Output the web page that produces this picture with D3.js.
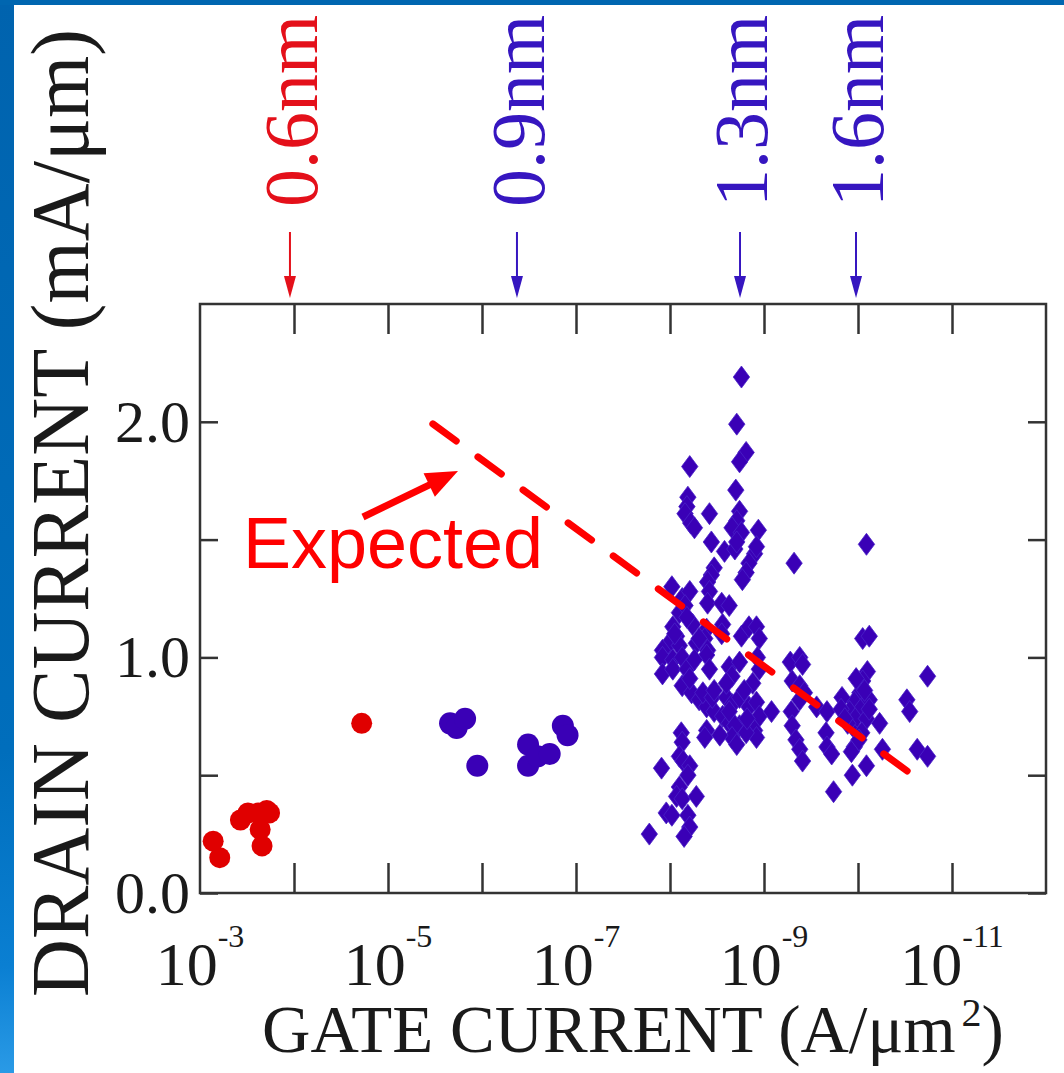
<!DOCTYPE html>
<html>
<head>
<meta charset="utf-8">
<script src="https://cdn.jsdelivr.net/npm/d3@7"></script>
<style>
  body { margin: 0; background: #fff; }
  svg { display: block; }
</style>
</head>
<body>
<script>
// gate current values are stored as log10(A/um^2)
const redCircleLogJ = [-3.14, -3.21, -3.43, -3.51, -3.62, -3.71, -3.64, -3.66, -3.74, -4.72];
const redCircleId   = [0.22, 0.15, 0.31, 0.34, 0.34, 0.35, 0.27, 0.20, 0.34, 0.72];

const blueCircleLogJ = [-5.66, -5.73, -5.82, -5.95, -6.49, -6.49, -6.59, -6.72, -6.86, -6.91];
const blueCircleId   = [0.72, 0.70, 0.74, 0.54, 0.63, 0.54, 0.58, 0.59, 0.71, 0.67];

const diamondLogJ = [
  -8.76,-8.71,-8.81,-8.74,-8.21,-8.70,-8.19,-8.18,-8.16,-8.22,
  -8.26,-8.42,-8.74,-8.71,-8.66,-8.76,-8.94,-8.44,-8.58,-8.69,
  -8.71,-8.90,-8.92,-8.84,-8.81,-8.77,-9.32,-10.09,-8.47,-8.44,
  -8.40,-8.42,-8.02,-8.13,-8.21,-8.10,-8.16,-8.40,-8.55,-8.63,
  -8.03,-8.07,-7.99,-7.92,-8.10,-8.39,-8.37,-8.40,-8.56,-8.55,
  -8.76,-8.84,-8.92,-8.95,
  -7.92,-8.03,-8.13,-7.92,-8.03,-8.18,-8.39,-8.42,-8.63,-8.66,
  -8.74,-8.93,-8.95,-8.88,-8.13,-8.23,-8.31,-8.39,-8.47,-8.56,
  -8.63,-8.74,-8.35,-8.45,-8.60,-8.66,-8.74,-8.63,-8.84,-8.92,
  -8.95,-8.90,-8.92,-9.08,-8.39,-8.37,-8.69,-8.66,-8.71,-8.81,
  -8.12,-8.13,-8.10,-8.14,-8.21,-8.19,-7.91,-8.10,-8.07,-8.13,
  -8.28,-7.96,-8.02,-8.19,-8.21,-8.15,-7.78,
  -10.05,-10.12,-9.28,-9.38,-9.41,-9.30,-9.38,-9.43,-9.38,-9.56,
  -9.67,-9.66,-9.67,-9.72,-9.29,-9.30,-9.34,-9.38,-9.41,
  -10.10,-10.05,-10.02,-9.96,-9.91,-9.83,-9.82,-9.94,-9.99,-10.05,
  -10.09,-10.04,-9.96,-9.93,-10.12,-10.23,-10.26,-10.52,-10.55,-10.74,
  -10.63,-10.74,-10.09,-9.94,-9.74,-8.24,-8.28,
  -8.26,-8.31,-8.21,-8.79,-8.53,-8.82,-8.47,-8.18,-8.05,-8.60,
  -9.89,-10.01,-10.12,-9.98,-9.86,-10.07
];
const diamondId = [
  2.19,1.99,1.87,1.83,1.81,1.71,1.68,1.64,1.61,1.57,
  1.55,1.61,1.62,1.58,1.55,1.53,1.54,1.49,1.45,1.46,
  1.49,1.44,1.47,1.40,1.36,1.33,1.40,1.48,1.38,1.35,
  1.32,1.28,1.30,1.25,1.28,1.19,1.22,1.23,1.23,1.22,
  1.13,1.09,1.06,1.03,1.05,1.12,1.08,1.03,1.14,1.10,
  1.09,1.13,1.13,1.08,
  1.00,0.99,1.00,0.93,0.95,0.95,1.01,0.95,0.96,0.92,
  0.98,1.00,0.95,0.89,0.88,0.85,0.82,0.79,0.77,0.75,
  0.72,0.71,0.85,0.83,0.83,0.80,0.83,0.77,0.79,0.81,
  0.75,0.69,0.66,0.77,0.69,0.66,0.71,0.66,0.63,0.68,
  0.68,0.64,0.58,0.56,0.54,0.50,0.53,0.45,0.41,0.40,
  0.41,0.34,0.33,0.33,0.28,0.24,0.25,
  1.08,1.09,0.98,1.00,0.97,0.90,0.88,0.85,0.82,0.79,
  0.77,0.68,0.62,0.59,0.77,0.71,0.65,0.61,0.56,
  0.94,0.90,0.85,0.81,0.77,0.83,0.78,0.71,0.75,0.79,
  0.74,0.68,0.62,0.60,0.82,0.72,0.61,0.82,0.77,0.92,
  0.61,0.58,0.54,0.50,0.43,1.14,1.06,
  0.99,1.08,0.91,0.86,0.67,0.74,0.86,1.17,1.10,0.89,
  0.72,0.65,0.78,0.91,0.74,0.86
];

// "Expected" trend line (two ends)
const expectedLogJ = [-5.447, -10.553];
const expectedId   = [2.00, 0.509];

// oxide thickness markers along the top
const thicknessLabels = ["0.6nm", "0.9nm", "1.3nm", "1.6nm"];
const thicknessLogJ   = [-3.957, -6.372, -8.745, -9.979];

const xLabelExps = [-3, -5, -7, -9, -11];
const yTickValues = [0, 0.5, 1.0, 1.5, 2.0];

const W = 1064, H = 1073;
const RED = "#e00000", BLUE = "#3a00b6";

const svg = d3.select("body").append("svg")
  .attr("width", W).attr("height", H);

// slide background / blue edges
const grad = svg.append("defs").append("linearGradient")
  .attr("id", "edge").attr("x1", 0).attr("y1", 0).attr("x2", 0).attr("y2", 1);
grad.append("stop").attr("offset", "0").attr("stop-color", "#0063ae");
grad.append("stop").attr("offset", "0.7").attr("stop-color", "#006ebc");
grad.append("stop").attr("offset", "0.9").attr("stop-color", "#0a7fd2");
grad.append("stop").attr("offset", "1").attr("stop-color", "#2a9ae6");

svg.append("rect").attr("width", W).attr("height", H).attr("fill", "#fff");
svg.append("rect").attr("x", 0).attr("y", 0).attr("width", 14).attr("height", H).attr("fill", "url(#edge)");
svg.append("rect").attr("x", 0).attr("y", 0).attr("width", W).attr("height", 5).attr("fill", "#0066b0");

const x = d3.scaleLog().domain([1e-3, 1e-12]).range([200, 1046]);
const y = d3.scaleLinear().domain([0, 2.5]).range([893, 304]);

const decades = d3.range(-4, -11.5, -1).map(e => Math.pow(10, e));
const serif = "'Liberation Serif','Times New Roman',serif";

function styleAxis(g) {
  g.select(".domain").remove();
  g.selectAll(".tick line").attr("stroke", "#333").attr("stroke-width", 2.5);
}

svg.append("g").attr("transform", `translate(0,${y(0)})`)
  .call(d3.axisBottom(x).tickValues(decades).tickSize(-30).tickFormat(""))
  .call(styleAxis);
svg.append("g").attr("transform", `translate(0,${y(2.5)})`)
  .call(d3.axisTop(x).tickValues(decades).tickSize(-30).tickFormat(""))
  .call(styleAxis);
svg.append("g").attr("transform", `translate(${x(1e-3)},0)`)
  .call(d3.axisLeft(y).tickValues(yTickValues).tickSize(-18).tickPadding(10)
    .tickFormat(d => (d % 1 === 0 ? d.toFixed(1) : "")))
  .call(styleAxis)
  .call(g => g.selectAll(".tick text")
    .attr("font-family", serif).attr("font-size", 60).attr("fill", "#1a1a1a"));
svg.append("g").attr("transform", `translate(${x(1e-12)},0)`)
  .call(d3.axisRight(y).tickValues(yTickValues).tickSize(-18).tickFormat(""))
  .call(styleAxis);

// frame
svg.append("rect")
  .attr("x", x(1e-3)).attr("y", y(2.5))
  .attr("width", x(1e-12) - x(1e-3)).attr("height", y(0) - y(2.5))
  .attr("fill", "none").attr("stroke", "#333").attr("stroke-width", 2.5);

// x tick labels 10^-n
const xl = svg.append("g").selectAll("text").data(xLabelExps).join("text")
  .attr("x", d => x(Math.pow(10, d))).attr("y", 985)
  .attr("text-anchor", "middle")
  .attr("font-family", serif).attr("font-size", 62).attr("fill", "#1a1a1a");
xl.append("tspan").text("10");
xl.append("tspan").attr("font-size", 32).attr("dy", -38).text(d => d);

// axis titles
svg.append("text")
  .attr("transform", "translate(88,513) rotate(-90)")
  .attr("text-anchor", "middle")
  .attr("font-family", serif).attr("font-size", 82).attr("fill", "#1a1a1a")
  .attr("textLength", 968).attr("lengthAdjust", "spacingAndGlyphs")
  .text("DRAIN CURRENT (mA/μm)");

const xt = svg.append("text")
  .attr("x", 262).attr("y", 1052)
  .attr("font-family", serif).attr("font-size", 67).attr("fill", "#1a1a1a");
xt.append("tspan").text("GATE CURRENT (A/μm");
xt.append("tspan").attr("font-size", 40).attr("dy", -26).attr("dx", 6).text("2");
xt.append("tspan").attr("dy", 26).text(")");

// thickness markers
const marks = svg.append("g").selectAll("g")
  .data(thicknessLabels.map((t, i) => ({ label: t, logJ: thicknessLogJ[i], color: i === 0 ? "#e4101a" : "#3616c0" })))
  .join("g")
  .attr("transform", d => `translate(${x(Math.pow(10, d.logJ))},0)`);
marks.append("line")
  .attr("x1", 0).attr("x2", 0).attr("y1", 232).attr("y2", 282)
  .attr("stroke", d => d.color).attr("stroke-width", 2);
marks.append("path")
  .attr("d", "M-6,276L6,276L0,298Z")
  .attr("fill", d => d.color);
marks.append("text")
  .attr("transform", "translate(27,207) rotate(-90)")
  .attr("font-family", serif).attr("font-size", 76)
  .attr("fill", d => d.color)
  .text(d => d.label);

// data points
const plot = svg.append("g");

plot.selectAll("circle.red")
  .data(redCircleLogJ.map((v, i) => [v, redCircleId[i]]))
  .join("circle").attr("class", "red")
  .attr("cx", d => x(Math.pow(10, d[0]))).attr("cy", d => y(d[1]))
  .attr("r", 10.5).attr("fill", RED);

plot.selectAll("circle.blue")
  .data(blueCircleLogJ.map((v, i) => [v, blueCircleId[i]]))
  .join("circle").attr("class", "blue")
  .attr("cx", d => x(Math.pow(10, d[0]))).attr("cy", d => y(d[1]))
  .attr("r", 11).attr("fill", BLUE);

plot.selectAll("path.dia")
  .data(diamondLogJ.map((v, i) => [v, diamondId[i]]))
  .join("path").attr("class", "dia")
  .attr("transform", d => `translate(${x(Math.pow(10, d[0]))},${y(d[1])})`)
  .attr("d", "M0,-11L8.2,0L0,11L-8.2,0Z")
  .attr("fill", BLUE).attr("stroke", "#4a22c8").attr("stroke-width", 0.8);

// expected dashed line
const p0 = [x(Math.pow(10, expectedLogJ[0])), y(expectedId[0])];
const p1 = [x(Math.pow(10, expectedLogJ[1])), y(expectedId[1])];
const len = Math.hypot(p1[0] - p0[0], p1[1] - p0[1]);
const ux = (p1[0] - p0[0]) / len, uy = (p1[1] - p0[1]) / len;
const cap = 3.5, nDash = 11, dash = 29;
const gap = (len - 2 * cap - nDash * dash) / (nDash - 1);
svg.append("line")
  .attr("x1", p0[0] + ux * cap).attr("y1", p0[1] + uy * cap)
  .attr("x2", p1[0] - ux * cap).attr("y2", p1[1] - uy * cap)
  .attr("stroke", "#ff0000").attr("stroke-width", 7)
  .attr("stroke-linecap", "round")
  .attr("stroke-dasharray", `${dash} ${gap}`);

// "Expected" annotation with arrow
const tail = [x(Math.pow(10, -4.734)), y(1.596)];
const tip = [x(Math.pow(10, -5.745)), y(1.791)];
const al = Math.hypot(tip[0] - tail[0], tip[1] - tail[1]);
const ax = (tip[0] - tail[0]) / al, ay = (tip[1] - tail[1]) / al;
const headL = 32, headW = 13;
const base = [tip[0] - ax * headL, tip[1] - ay * headL];
svg.append("line")
  .attr("x1", tail[0]).attr("y1", tail[1])
  .attr("x2", base[0] + ax * 2).attr("y2", base[1] + ay * 2)
  .attr("stroke", "#ff0000").attr("stroke-width", 7);
svg.append("path")
  .attr("d", `M${tip[0]},${tip[1]}L${base[0] - ay * headW},${base[1] + ax * headW}L${base[0] + ay * headW},${base[1] - ax * headW}Z`)
  .attr("fill", "#ff0000");
svg.append("text")
  .attr("x", x(Math.pow(10, -3.457))).attr("y", y(1.38))
  .attr("font-family", "'Liberation Sans', Arial, sans-serif")
  .attr("font-size", 72).attr("fill", "#ff0000")
  .text("Expected");
</script>
</body>
</html>
